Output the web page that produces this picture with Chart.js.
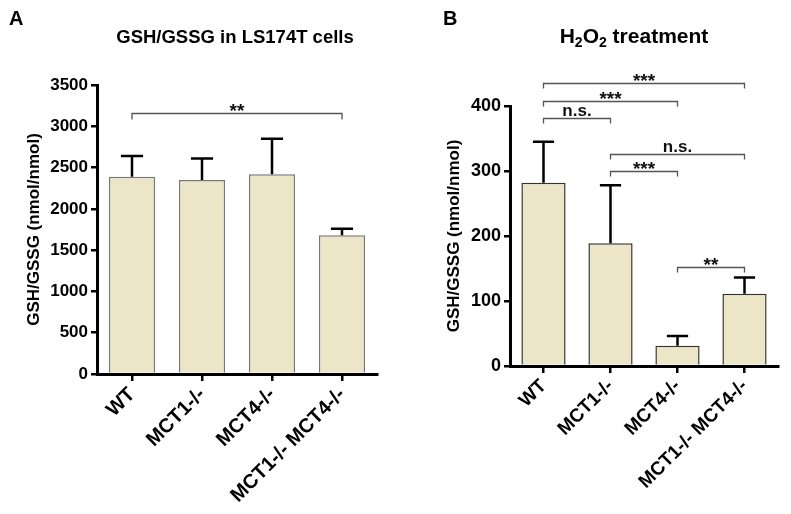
<!DOCTYPE html>
<html>
<head>
<meta charset="utf-8">
<script src="https://cdn.jsdelivr.net/npm/chart.js@4"></script>
<style>
  html, body { margin: 0; padding: 0; background: #fff; }
  #wrap { position: relative; width: 791px; height: 514px; overflow: hidden; }
  canvas { position: absolute; top: 0; }
  #cA { left: 0; }
  #cB { left: 400px; }
</style>
</head>
<body>
<div id="wrap">
  <canvas id="cA" width="400" height="514"></canvas>
  <canvas id="cB" width="391" height="514"></canvas>
</div>
<script>
// ---------- data ----------
const categories = ['WT', 'MCT1-/-', 'MCT4-/-', 'MCT1-/- MCT4-/-'];

const ratioA = [2390, 2350, 2420, 1680];       // GSH/GSSG, LS174T cells
const errorA = [250, 260, 430, 80];            // upper SD
const ticksA = [0, 500, 1000, 1500, 2000, 2500, 3000, 3500];

const ratioB = [282, 189, 31, 111];            // GSH/GSSG, H2O2 treatment
const errorB = [63, 89, 15, 25];
const ticksB = [0, 100, 200, 300, 400];

// significance brackets: [fromIndex, toIndex, yValue, label]
const bracketsA = [[0, 3, 3160, '**']];
const bracketsB = [
  [0, 3, 435, '***'],
  [0, 2, 407, '***'],
  [0, 1, 381, 'n.s.'],
  [1, 3, 326, 'n.s.'],
  [1, 2, 300, '***'],
  [2, 3, 153, '**']
];

const FONT = '"Liberation Sans", Arial, Helvetica, sans-serif';
const BAR_FILL = '#EDE5C8';

// ---------- plugins ----------
const errorBarPlugin = {
  id: 'errorBars',
  afterDatasetsDraw(chart, args, opts) {
    const ctx = chart.ctx;
    const meta = chart.getDatasetMeta(0);
    const ys = chart.scales.y;
    const vals = chart.data.datasets[0].data;
    ctx.save();
    ctx.strokeStyle = '#000';
    ctx.lineWidth = opts.lineWidth || 2.5;
    meta.data.forEach((bar, i) => {
      const x = bar.x;
      const y0 = ys.getPixelForValue(vals[i]);
      const y1 = ys.getPixelForValue(vals[i] + opts.errors[i]);
      const half = bar.width * (opts.capFrac || 0.25);
      ctx.beginPath();
      ctx.moveTo(x, y0);
      ctx.lineTo(x, y1);
      ctx.moveTo(x - half, y1);
      ctx.lineTo(x + half, y1);
      ctx.stroke();
    });
    ctx.restore();
  }
};

const bracketPlugin = {
  id: 'brackets',
  afterDraw(chart, args, opts) {
    const ctx = chart.ctx;
    const xs = chart.scales.x, ys = chart.scales.y;
    ctx.save();
    ctx.strokeStyle = '#555';
    ctx.lineWidth = 1.3;
    ctx.fillStyle = '#111';
    ctx.textAlign = 'center';
    opts.items.forEach(([a, b, v, label]) => {
      const x0 = xs.getPixelForValue(a), x1 = xs.getPixelForValue(b);
      const y = Math.round(ys.getPixelForValue(v)) + 0.5;
      const drop = opts.drop || 5;
      ctx.beginPath();
      ctx.moveTo(x0, y + drop);
      ctx.lineTo(x0, y);
      ctx.lineTo(x1, y);
      ctx.lineTo(x1, y + drop);
      ctx.stroke();
      const cx = (x0 + x1) / 2;
      ctx.textBaseline = 'alphabetic';
      if (label.indexOf('*') >= 0) {
        ctx.font = 'bold 19px ' + FONT;
        ctx.fillText(label, cx, y + 3);
      } else {
        ctx.font = 'bold 17px ' + FONT;
        ctx.fillText(label, cx, y - 3);
      }
    });
    ctx.restore();
  }
};

const headerPlugin = {
  id: 'header',
  afterDraw(chart, args, opts) {
    const ctx = chart.ctx;
    ctx.save();
    ctx.fillStyle = '#000';
    ctx.textBaseline = 'alphabetic';
    ctx.textAlign = 'left';
    ctx.font = 'bold 20px ' + FONT;
    ctx.fillText(opts.letter, opts.letterX, 25);
    const big = 'bold ' + opts.size + 'px ' + FONT, small = 'bold ' + Math.round(opts.size * 0.65) + 'px ' + FONT;
    let total = 0;
    opts.pieces.forEach(([t, sub]) => { ctx.font = sub ? small : big; total += ctx.measureText(t).width; });
    let x = opts.titleX - total / 2;
    opts.pieces.forEach(([t, sub]) => {
      ctx.font = sub ? small : big;
      ctx.fillText(t, x, sub ? 47 : 43);
      x += ctx.measureText(t).width;
    });
    ctx.restore();
  }
};

function makeChart(id, values, errors, ticks, brackets, cfg) {
  const tickVals = ticks.slice();
  return new Chart(document.getElementById(id), {
    type: 'bar',
    data: {
      labels: categories,
      datasets: [{
        data: values,
        backgroundColor: BAR_FILL,
        borderColor: cfg.edge,
        borderWidth: 1.5,
        borderSkipped: 'start',
        categoryPercentage: 1,
        barPercentage: 0.66
      }]
    },
    options: {
      responsive: false,
      animation: false,
      devicePixelRatio: 1,
      layout: { padding: { top: cfg.top, right: cfg.right, left: 0, bottom: 0 } },
      plugins: {
        legend: { display: false },
        tooltip: { enabled: false },
        errorBars: { errors: errors, lineWidth: 2.5, capFrac: 0.24 },
        brackets: { items: brackets, drop: cfg.drop },
        header: { letter: cfg.letter, letterX: cfg.letterX, titleX: cfg.titleX, size: cfg.titleSize, pieces: cfg.pieces }
      },
      scales: {
        x: {
          type: 'category',
          border: { display: true, color: '#000', width: 3, z: 1 },
          grid: { display: true, offset: false, drawOnChartArea: false, tickLength: 7, lineWidth: 2.5, color: '#000' },
          ticks: {
            minRotation: 45, maxRotation: 45, autoSkip: false, padding: 2,
            color: '#000',
            font: { family: FONT, size: cfg.xFont, weight: 'bold' }
          },
          afterFit(s) { s.height = cfg.xHeight; s.paddingLeft = 0; s.paddingRight = 0; }
        },
        y: {
          min: ticks[0], max: ticks[ticks.length - 1],
          afterBuildTicks(s) { s.ticks = tickVals.map(v => ({ value: v })); },
          border: { display: true, color: '#000', width: 3 },
          grid: { display: true, drawOnChartArea: false, tickLength: 6, lineWidth: 2.5, color: '#000' },
          ticks: {
            padding: 3, color: '#000',
            font: { family: FONT, size: cfg.yFont, weight: 'bold' },
            callback: (v) => String(v)
          },
          title: {
            display: true, text: 'GSH/GSSG (nmol/nmol)', color: '#000',
            font: { family: FONT, size: 17, weight: 'bold' },
            padding: { top: cfg.yTitlePad, bottom: 0 }
          },
          afterFit(s) { s.width = cfg.yWidth; s.paddingTop = 0; s.paddingBottom = 0; }
        }
      }
    },
    plugins: [errorBarPlugin, bracketPlugin, headerPlugin]
  });
}

makeChart('cA', ratioA, errorA, ticksA, bracketsA, {
  top: 85, right: 23, yWidth: 97, xHeight: 140, xFont: 20, yFont: 17, yTitlePad: 24, drop: 6,
  letter: 'A', letterX: 9, titleX: 235, titleSize: 18.5, edge: '#777777',
  pieces: [['GSH/GSSG in LS174T cells', false]]
});

makeChart('cB', ratioB, errorB, ticksB, bracketsB, {
  top: 106, right: 13, yWidth: 110, xHeight: 148, xFont: 19, yFont: 18, yTitlePad: 44, drop: 5,
  letter: 'B', letterX: 43, titleX: 234, titleSize: 21, edge: '#333333',
  pieces: [['H', false], ['2', true], ['O', false], ['2', true], [' treatment', false]]
});
</script>
</body>
</html>
